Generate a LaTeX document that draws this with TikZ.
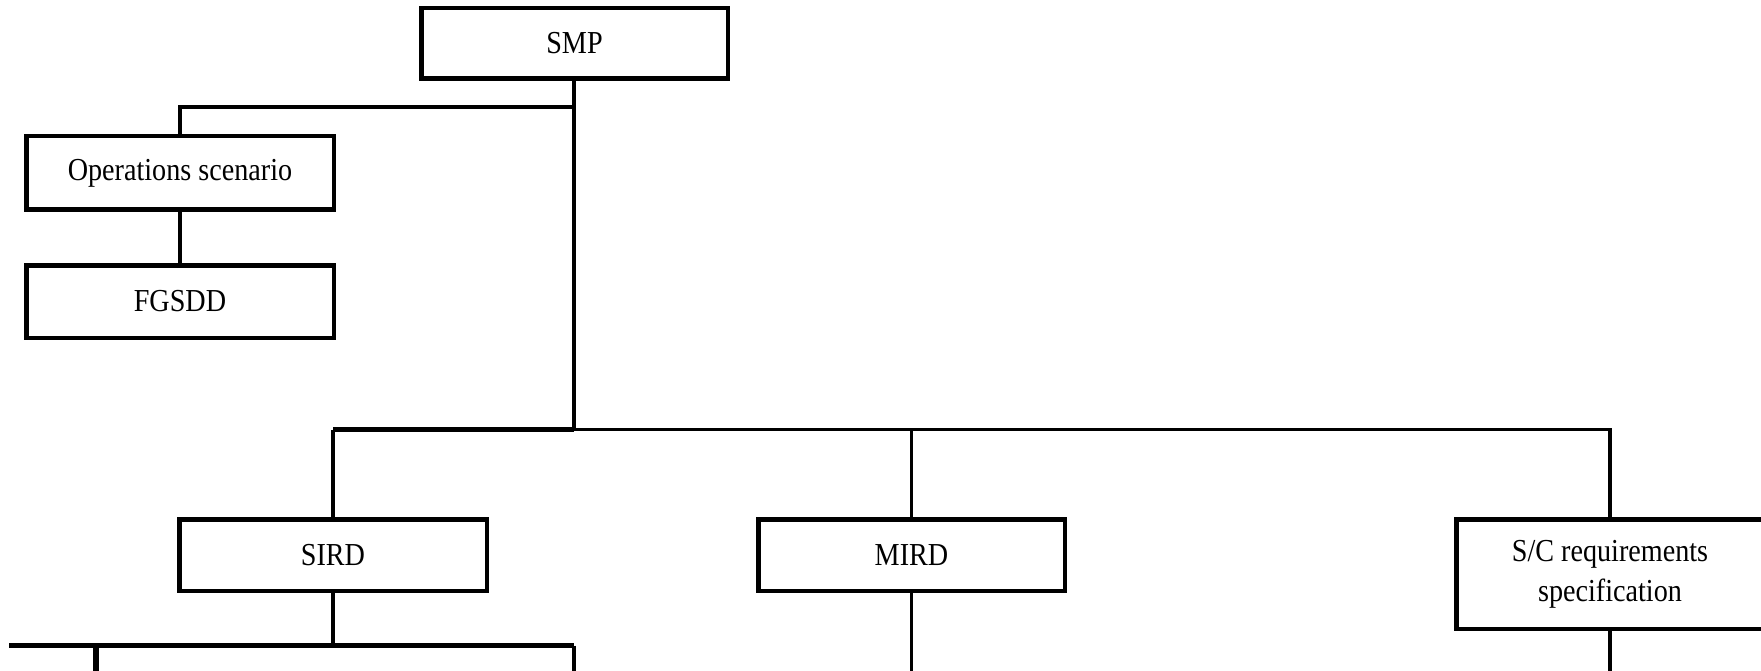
\documentclass[tikz,border=0pt]{standalone}
\usepackage{fontspec}
\setmainfont{Liberation Serif}[FakeStretch=0.88]
\begin{document}
\begin{tikzpicture}[x=1pt,y=-1pt,
  box/.style={draw=black,line width=4.5pt,rectangle,inner sep=0pt,
    minimum width=307.5pt,minimum height=71.5pt,align=center,
    font=\fontsize{32}{40}\selectfont},
  conn/.style={draw=black,line width=3.5pt},
  heavy/.style={draw=black,line width=5.5pt}]
\clip (0,0) rectangle (1761,671);
\fill[white] (0,0) rectangle (1761,671);
\node[box,minimum width=306.5pt,minimum height=70.5pt] (smp) at (574.5,43.5) {SMP};
\node[box,minimum height=73.5pt] (ops) at (180,173) {Operations scenario};
\node[box,minimum height=72.5pt] (fgsdd) at (180,301.5) {FGSDD};
\node[box] (sird) at (333,555) {SIRD};
\node[box,minimum width=306.5pt] (mird) at (911.5,555) {MIRD};
\node[box,minimum height=109.5pt] (sc) at (1610,574) {S/C requirements\\specification};
\coordinate (b1) at (574,107);
\coordinate (bus) at (574,429.5);
\coordinate (bs) at (sird.north |- bus);
\coordinate (bm) at (mird.north |- bus);
\coordinate (lb) at (sird.south |- 0,645.5);
\coordinate (lbl) at (9,645.5);
\coordinate (lbr) at (574,645.5);
\coordinate (lbk) at (96,645.5);
\coordinate (e1) at (96,680);
\coordinate (e2) at (574,680);
\draw[conn] (smp.south -| b1) -- (b1) -| (ops.north);
\draw[conn] (b1) -- (bus);
\draw[conn] (ops.south) -- (fgsdd.north);
\draw[heavy] (bus) -- (bs);
\draw[conn] (bs) -- (sird.north);
\draw[conn] (bus) -| (sc.north);
\draw[conn] (bm) -- (mird.north);
\draw[conn] (sird.south) -- (lb);
\draw[heavy] (lbl) -- (lbr);
\draw[heavy] (lbk) -- (e1);
\draw[conn] (lbr) -- (e2);
\draw[conn] (mird.south) -- (mird.south |- e2);
\draw[conn] (sc.south) -- (sc.south |- e2);
\end{tikzpicture}
\end{document}
